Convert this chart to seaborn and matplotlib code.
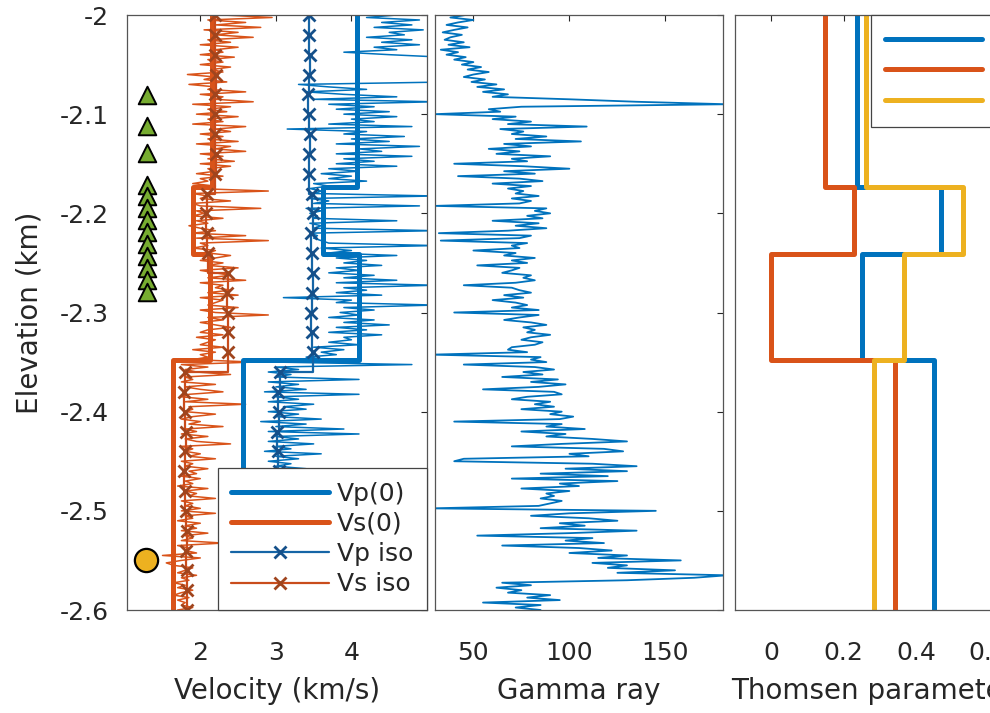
import numpy as np
import matplotlib
matplotlib.use("Agg")
import matplotlib.pyplot as plt
import seaborn as sns

# log samples (elevation, km), every 2.5 m
log_depth = np.linspace(-2.0, -2.6, 241)

vp_log = [4.6, 4.2, 4.9, 4.4, 4.8, 4.3, 4.95, 4.5, 4.7, 4.2,
          4.8, 4.4, 4.9, 4.3, 4.6, 3.9, 4.5, 5.2, 5.3, 5.4,
          5.3, 5.4, 5.2, 5.3, 5.4, 5.3, 5.2, 5.3, 3.3, 3.7,
          4.2, 3.4, 3.9, 4.6, 3.5, 5.1, 3.7, 4.3, 3.8, 4.5,
          3.9, 4.6, 4.0, 4.3, 3.7, 4.8, 3.15, 4.2, 3.9, 4.7,
          4.0, 4.5, 3.8, 4.9, 4.1, 4.4, 3.8, 4.8, 3.9, 4.3,
          3.8, 4.6, 3.7, 4.1, 3.6, 4.0, 3.7, 4.2, 3.5, 3.7,
          3.45, 3.6, 3.5, 5.1, 3.45, 3.7, 3.5, 4.9, 3.4, 3.6,
          3.45, 3.55, 3.5, 4.6, 3.45, 3.6, 3.5, 5.1, 3.45, 3.55,
          3.5, 3.6, 3.7, 5.1, 3.6, 4.0, 3.7, 4.6, 3.8, 4.2,
          3.9, 4.4, 3.8, 4.1, 3.7, 4.3, 3.9, 4.6, 3.8, 5.1,
          3.9, 4.2, 3.8, 4.4, 3.1, 4.0, 3.8, 5.1, 3.9, 4.3,
          3.85, 4.1, 3.7, 4.3, 3.9, 4.5, 3.8, 4.2, 3.7, 4.4,
          3.9, 4.0, 3.7, 4.1, 3.5, 3.9, 3.6, 3.8, 3.4, 3.7,
          3.0, 4.8, 3.0, 3.3, 2.9, 3.2, 3.0, 4.1, 2.9, 3.3,
          3.0, 3.4, 2.85, 4.1, 3.0, 3.3, 2.9, 3.5, 3.1, 3.4,
          2.9, 3.3, 3.0, 3.6, 2.8, 3.4, 3.0, 3.9, 2.9, 4.1,
          3.0, 3.3, 2.9, 3.5, 3.0, 3.2, 2.85, 3.6, 3.0, 3.3,
          2.9, 3.2, 3.0, 3.4, 2.9, 3.1, 3.0, 3.3, 2.9, 3.2,
          3.0, 3.2, 2.9, 3.1, 3.0, 3.3, 2.9, 3.1, 3.0, 3.2,
          2.9, 3.1, 3.0, 3.2, 2.9, 3.1, 3.0, 3.2, 2.9, 3.1,
          3.0, 3.2, 2.9, 3.1, 3.0, 3.2, 2.9, 3.1, 3.0, 3.2,
          2.9, 3.1, 3.0, 3.2, 2.9, 3.1, 3.0, 3.2, 2.9, 3.1,
          3.0, 3.2, 2.9, 3.1, 3.0, 3.2, 2.9, 3.1, 3.0, 3.2,
          3.0]

vs_log = [2.3, 2.95, 2.1, 2.6, 2.2, 2.8, 2.05, 2.5, 2.2, 2.7,
          2.1, 2.4, 2.0, 2.5, 2.2, 2.3, 2.0, 2.45, 2.1, 2.3,
          2.0, 2.4, 2.15, 2.3, 1.83, 2.2, 2.05, 2.35, 1.85, 2.2,
          2.1, 2.6, 2.0, 2.3, 2.2, 2.7, 1.9, 2.4, 2.1, 2.35,
          1.95, 2.5, 2.1, 2.3, 1.9, 2.6, 2.2, 2.4, 2.0, 2.3,
          2.1, 2.5, 1.95, 2.4, 2.2, 2.6, 2.0, 2.3, 2.1, 2.45,
          2.0, 2.4, 2.1, 2.2, 1.95, 2.3, 2.0, 2.1, 1.9, 2.2,
          1.95, 2.9, 1.9, 2.1, 2.0, 2.4, 1.9, 2.0, 2.8, 1.95,
          2.05, 1.9, 2.3, 1.95, 2.1, 1.85, 2.0, 2.2, 1.9, 2.6,
          1.95, 2.9, 2.0, 2.1, 1.9, 2.2, 2.1, 2.4, 2.2, 2.0,
          2.3, 2.1, 2.5, 2.0, 2.2, 2.4, 2.1, 2.6, 2.0, 2.3,
          2.2, 2.4, 2.1, 2.5, 2.0, 2.3, 2.2, 2.1, 2.5, 2.0,
          2.2, 2.9, 2.1, 2.3, 2.0, 2.2, 2.4, 2.1, 2.0, 2.3,
          1.95, 2.2, 2.1, 2.0, 2.3, 1.9, 2.2, 2.0, 2.1, 1.9,
          2.7, 1.75, 2.1, 1.8, 1.95, 2.4, 1.8, 1.9, 1.75, 2.2,
          1.8, 2.0, 2.3, 1.85, 1.75, 2.1, 1.8, 2.6, 1.85, 1.9,
          1.8, 2.2, 1.9, 1.75, 2.0, 1.85, 2.3, 1.8, 1.95, 1.75,
          2.1, 1.8, 1.95, 2.4, 1.75, 1.9, 1.8, 2.0, 1.85, 2.2,
          1.75, 1.9, 1.8, 2.1, 1.85, 1.95, 1.75, 2.0, 1.8, 1.9,
          1.7, 2.1, 1.8, 1.95, 1.85, 2.2, 1.75, 1.9, 1.8, 2.0,
          1.75, 2.2, 1.8, 1.9, 1.7, 2.0, 1.8, 1.95, 1.75, 2.1,
          1.8, 1.9, 1.75, 2.3, 1.7, 1.85, 1.8, 1.95, 1.5, 2.0,
          1.75, 1.55, 1.65, 1.9, 1.8, 1.7, 1.95, 1.75, 1.85, 1.65,
          1.8, 1.7, 1.9, 1.75, 1.65, 1.85, 1.7, 1.8, 1.75, 1.9,
          1.7]

gamma_ray = [46, 38, 50, 42, 36, 47, 40, 34, 44, 38,
             35, 45, 37, 48, 33, 42, 36, 46, 40, 50,
             44, 54, 47, 58, 50, 45, 56, 49, 62, 52,
             66, 55, 68, 60, 100, 135, 182, 75, 58, 64,
             30, 72, 60, 80, 68, 109, 64, 76, 70, 88,
             72, 106, 66, 80, 58, 74, 62, 90, 70, 78,
             40, 76, 100, 66, 82, 42, 74, 86, 60, 80,
             68, 76, 72, 84, 70, 80, 74, 30, 88, 82,
             90, 78, 86, 60, 84, 72, 88, 68, 32, 80,
             74, 33, 78, 70, 74, 50, 72, 66, 82, 70,
             78, 52, 74, 70, 65, 80, 76, 82, 72, 45,
             70, 74, 80, 66, 76, 60, 72, 78, 70, 84,
             40, 84, 74, 66, 80, 88, 76, 82, 78, 90,
             80, 75, 86, 82, 70, 68, 78, 28, 85, 80,
             88, 45, 82, 92, 76, 86, 65, 94, 80, 98,
             84, 55, 92, 96, 78, 70, 90, 82, 92, 75,
             96, 90, 102, 95, 40, 96, 88, 108, 75, 98,
             88, 112, 130, 96, 70, 118, 128, 100, 110, 45,
             40, 112, 135, 98, 130, 85, 120, 70, 125, 95,
             105, 75, 100, 88, 92, 85, 96, 90, 84, 28,
             145, 100, 80, 110, 125, 95, 108, 85, 135, 100,
             52, 112, 98, 118, 65, 105, 122, 100, 130, 115,
             158, 112, 130, 120, 155, 125, 182, 165, 130, 65,
             80, 62, 75, 68, 90, 78, 95, 55, 85, 72,
             85]

# layered model
layer_tops = [-2.0, -2.173, -2.241, -2.348, -2.6]
vp0_layers = [4.07, 3.63, 4.10, 2.57]
vs0_layers = [2.16, 1.91, 2.13, 1.64]
eps_layers = [0.236, 0.467, 0.25, 0.45]
delta_layers = [0.147, 0.228, 0.0, 0.34]
gam_layers = [0.26, 0.53, 0.367, 0.283]

# isotropic model, every 20 m
iso_depth = np.linspace(-2.0, -2.6, 31)
vp_iso = [3.44, 3.44, 3.45, 3.44, 3.43, 3.44, 3.45, 3.44, 3.44,
          3.48, 3.49, 3.47, 3.48, 3.49, 3.48, 3.47, 3.48, 3.49,
          3.05, 3.03, 3.04, 3.02, 3.03, 3.04, 3.03, 3.02, 3.03, 3.04, 3.03, 3.02, 3.03]
vs_iso = [2.20, 2.19, 2.20, 2.21, 2.20, 2.19, 2.20, 2.21, 2.20,
          2.09, 2.08, 2.09, 2.10,
          2.36, 2.35, 2.36, 2.37, 2.36,
          1.80, 1.79, 1.80, 1.81, 1.80, 1.79, 1.80, 1.81, 1.82, 1.81, 1.82, 1.83, 1.82]

tri_depth = [-2.081, -2.112, -2.139, -2.171, -2.183, -2.195, -2.207, -2.219,
             -2.231, -2.243, -2.255, -2.267, -2.279]
tri_vel = [1.29] * len(tri_depth)
circ_depth = [-2.55]
circ_vel = [1.28]

ytick_vals = [-2.6, -2.5, -2.4, -2.3, -2.2, -2.1, -2.0]
ytick_labels = ['-2.6', '-2.5', '-2.4', '-2.3', '-2.2', '-2.1', '-2']

blue, orange, yellow = '#0072BD', '#D95319', '#EDB120'
green = '#77AC30'
txt = '#262626'


def layer_path(values):
    d = np.repeat(layer_tops, 2)[1:-1]
    v = np.repeat(values, 2)
    return v, d


sns.set_theme(style='white')
plt.rcParams['font.family'] = ['DejaVu Sans']
plt.rcParams['axes.unicode_minus'] = False
plt.rcParams['text.color'] = txt
plt.rcParams['axes.labelcolor'] = txt

fig = plt.figure(figsize=(9.9, 7.13), dpi=100)
W, H = 990, 713
ax1 = fig.add_axes([127 / W, 103 / H, 300 / W, 595 / H])
ax2 = fig.add_axes([435 / W, 103 / H, 288 / W, 595 / H])
ax3 = fig.add_axes([735 / W, 103 / H, 290 / W, 595 / H])

# velocity panel
sns.lineplot(x=vp_log, y=log_depth, sort=False, estimator=None, ax=ax1, color=blue, lw=1.1)
sns.lineplot(x=vs_log, y=log_depth, sort=False, estimator=None, ax=ax1, color=orange, lw=1.1)
v, d = layer_path(vp0_layers)
sns.lineplot(x=v, y=d, sort=False, estimator=None, ax=ax1, color=blue, lw=3.6, label='Vp(0)')
v, d = layer_path(vs0_layers)
sns.lineplot(x=v, y=d, sort=False, estimator=None, ax=ax1, color=orange, lw=3.6, label='Vs(0)')
sns.lineplot(x=vp_iso, y=iso_depth, sort=False, estimator=None, ax=ax1, color='#1565A6',
             lw=1.6, marker='x', markersize=8, markeredgewidth=2, mec='#15508A',
             drawstyle='steps-pre', label='Vp iso')
sns.lineplot(x=vs_iso, y=iso_depth, sort=False, estimator=None, ax=ax1, color='#C94C1C',
             lw=1.6, marker='x', markersize=8, markeredgewidth=2, mec='#A0451E',
             drawstyle='steps-pre', label='Vs iso')
sns.scatterplot(x=tri_vel, y=tri_depth, ax=ax1, marker='^', s=160, color=green,
                edgecolor='black', linewidth=1.4, zorder=4)
sns.scatterplot(x=circ_vel, y=circ_depth, ax=ax1, marker='o', s=280, color=yellow,
                edgecolor='black', linewidth=1.6, zorder=4)

# gamma ray panel
sns.lineplot(x=gamma_ray, y=log_depth, sort=False, estimator=None, ax=ax2, color=blue, lw=1.3)

# Thomsen parameters panel
for vals, col, lab in [(eps_layers, blue, '\u03b5'), (delta_layers, orange, '\u03b4'),
                       (gam_layers, yellow, '\u03b3')]:
    v, d = layer_path(vals)
    sns.lineplot(x=v, y=d, sort=False, estimator=None, ax=ax3, color=col, lw=3.6, label=lab)

ax1.set_xlim(1.03, 5.0)
ax1.set_xticks([2, 3, 4])
ax1.set_xticklabels(['2', '3', '4'])
ax2.set_xlim(30, 180)
ax2.set_xticks([50, 100, 150])
ax2.set_xticklabels(['50', '100', '150'])
ax3.set_xlim(-0.1, 0.7)
ax3.set_xticks([0, 0.2, 0.4, 0.6])
ax3.set_xticklabels(['0', '0.2', '0.4', '0.6'])

for ax in (ax1, ax2, ax3):
    ax.set_ylim(-2.6, -2.0)
    ax.set_yticks(ytick_vals)
    ax.tick_params(direction='in', length=4, width=0.8, top=True, right=True,
                   labelsize=18, colors=txt, pad=22)
    ax.tick_params(axis='y', pad=13)
    for s in ax.spines.values():
        s.set_color('#555555')
        s.set_linewidth(0.9)
    ax.set_facecolor('white')

ax1.set_yticklabels(ytick_labels)
ax2.set_yticklabels([])
ax3.set_yticklabels([])

ax1.set_ylabel('Elevation (km)', fontsize=20, labelpad=12)
ax1.set_xlabel('Velocity (km/s)', fontsize=20, labelpad=9)
ax2.set_xlabel('Gamma ray', fontsize=20, labelpad=9)
ax3.set_xlabel('Thomsen parameters', fontsize=20, labelpad=9)

leg_kw = dict(frameon=True, fancybox=False, edgecolor='#444444', framealpha=1,
              fontsize=18, handlelength=3.9, handletextpad=0.32, labelspacing=0.25,
              borderpad=0.55, borderaxespad=0)
leg1 = ax1.legend(loc='lower right', bbox_to_anchor=(1, 0), **leg_kw)
leg3 = ax3.legend(loc='upper left', bbox_to_anchor=((871 - 735) / 290, 1), **leg_kw)
for lg in (leg1, leg3):
    lg.get_frame().set_linewidth(0.9)

fig.savefig('out.png', dpi=100)
